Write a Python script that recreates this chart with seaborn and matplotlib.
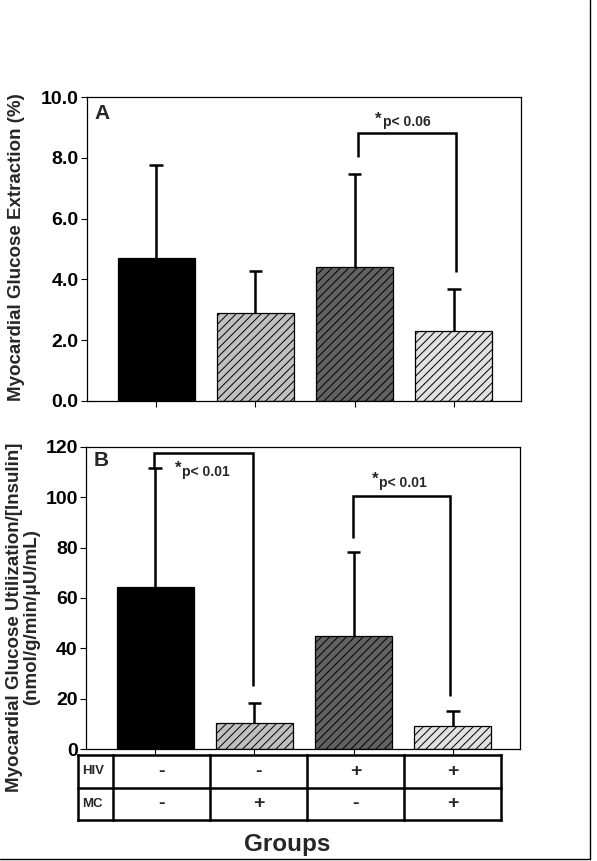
import matplotlib
matplotlib.use("Agg")
import matplotlib.pyplot as plt
import numpy as np
import pandas as pd
import seaborn as sns
from matplotlib.lines import Line2D

sns.set_theme(style="white")
plt.rcParams['font.family'] = ['Liberation Sans', 'DejaVu Sans']
plt.rcParams['hatch.linewidth'] = 0.7

# ---- data ----
groups = ["G1", "G2", "G3", "G4"]
hiv = ["-", "-", "+", "+"]
mc = ["-", "+", "-", "+"]
extraction_mean = [4.7, 2.9, 4.4, 2.3]
extraction_upper = [7.77, 4.28, 7.47, 3.68]
utilization_mean = [64.2, 10.3, 44.9, 9.1]
utilization_upper = [111.6, 18.3, 78.2, 15.1]
yticks_a = [0, 2, 4, 6, 8, 10]
yticks_b = [0, 20, 40, 60, 80, 100, 120]
bar_colors = ["#000000", "#c0c0c0", "#626262", "#e2e2e2"]
bar_hatches = ["", "////", "////", "////"]

W, H = 597, 861
fig = plt.figure(figsize=(W / 100, H / 100), dpi=100)


def px_axes(l, t, r, b):
    return fig.add_axes([l / W, 1 - b / H, (r - l) / W, (b - t) / H])


XLIM = (-0.70, 3.68)


def draw_panel(ax, means, uppers, yticks, fmt, ylim):
    df = pd.DataFrame({"group": groups, "value": means})
    sns.barplot(data=df, x="group", y="value", hue="group", palette=bar_colors,
                order=groups, hue_order=groups, width=0.78, edgecolor="black",
                linewidth=0.9, errorbar=None, legend=False, ax=ax, saturation=1)
    for p, h in zip(ax.patches, bar_hatches):
        p.set_hatch(h)
    xs = np.arange(len(groups))
    ax.vlines(xs, means, uppers, color="black", lw=1.8, zorder=1)
    ax.hlines(uppers, xs - 0.07, xs + 0.07, color="black", lw=1.8, zorder=1)
    ax.set_xlim(*XLIM)
    ax.set_ylim(*ylim)
    ax.set_yticks(yticks)
    ax.set_yticklabels([fmt.format(v) for v in yticks], fontsize=14, fontweight="bold")
    ax.set_xticks(xs)
    ax.set_xticklabels([])
    ax.set_xlabel("")
    ax.set_ylabel("")
    ax.tick_params(axis="both", direction="out", length=4, width=0.8, colors="black",
                   left=True, bottom=True, pad=2)
    for s in ax.spines.values():
        s.set_visible(True)
        s.set_color("black")
        s.set_linewidth(0.9)


def bracket(ax, x1, x2, ytop, yl, yr, star_xy, text_xy, label):
    ax.plot([x1, x1, x2, x2], [yl, ytop, ytop, yr], color="black", lw=1.8,
            solid_capstyle="butt", solid_joinstyle="miter", zorder=5)
    ax.text(star_xy[0], star_xy[1], "*", fontsize=12, fontweight="bold",
            ha="center", va="center")
    ax.text(text_xy[0], text_xy[1], label, fontsize=10, fontweight="bold",
            ha="left", va="center")


# ---- Panel A ----
axA = px_axes(87, 97, 521, 401)
draw_panel(axA, extraction_mean, extraction_upper, yticks_a, "{:.1f}", (0, 10))
axA.text(-0.62, 9.45, "A", fontsize=15, fontweight="bold", ha="left", va="center")
bracket(axA, 2.04, 3.02, 8.82, 8.03, 4.24, (2.24, 9.27), (2.29, 9.17), "p< 0.06")
fig.text(17 / W, 1 - 247 / H, "Myocardial Glucose Extraction (%)", rotation=90,
         fontsize=13.5, fontweight="bold", ha="center", va="center")

# ---- Panel B ----
axB = px_axes(86, 447, 520, 749)
draw_panel(axB, utilization_mean, utilization_upper, yticks_b, "{:d}", (0, 120))
axB.text(-0.62, 114.5, "B", fontsize=15, fontweight="bold", ha="left", va="center")
bracket(axB, -0.01, 0.99, 117.6, 111.6, 25, (0.23, 111.6), (0.27, 110.2), "p< 0.01")
bracket(axB, 1.99, 2.97, 100.5, 84, 21, (2.22, 107.2), (2.26, 105.8), "p< 0.01")
fig.text(23 / W, 1 - 617 / H,
         "Myocardial Glucose Utilization/[Insulin]\n(nmol/g/min/\u03bcU/mL)",
         rotation=90, fontsize=13.5, fontweight="bold", ha="center", va="center",
         linespacing=1.0)

# ---- group table ----
axT = px_axes(78, 755, 501, 820)
px_per_unit = (520 - 86) / (XLIM[1] - XLIM[0])
axT.set_xlim(XLIM[0] - 8 / px_per_unit, XLIM[0] + (501 - 86) / px_per_unit)
axT.set_ylim(0, 2)
axT.axis("off")
x0, x1 = axT.get_xlim()
divs = np.linspace(x0 + 35 / px_per_unit, x1, len(groups) + 1)
lw_t = 1.8
for y in [0, 1, 2]:
    axT.add_line(Line2D([x0, x1], [y, y], color="black", lw=lw_t, clip_on=False,
                        solid_capstyle="projecting"))
for x in [x0] + list(divs):
    axT.add_line(Line2D([x, x], [0, 2], color="black", lw=lw_t, clip_on=False,
                        solid_capstyle="projecting"))
centers = (divs[:-1] + divs[1:]) / 2
for c, h, m in zip(centers, hiv, mc):
    axT.text(c, 1.5, h, fontsize=14, fontweight="bold", ha="center", va="center")
    axT.text(c, 0.5, m, fontsize=14, fontweight="bold", ha="center", va="center")
axT.text(x0 + 4 / px_per_unit, 1.5, "HIV", fontsize=9.5, fontweight="bold", ha="left", va="center")
axT.text(x0 + 4 / px_per_unit, 0.5, "MC", fontsize=9.5, fontweight="bold", ha="left", va="center")

fig.text(287 / W, 1 - 845 / H, "Groups", fontsize=17.5, fontweight="bold",
         ha="center", va="center")

# ---- partial frame (right and bottom edges) ----
fig.add_artist(Line2D([590 / W, 590 / W], [1 - 859 / H, 1.0], color="black", lw=1.0,
                      transform=fig.transFigure))
fig.add_artist(Line2D([0, 590 / W], [1 - 859 / H, 1 - 859 / H], color="black", lw=1.0,
                      transform=fig.transFigure))

fig.savefig("out.png", dpi=100, facecolor="white")
